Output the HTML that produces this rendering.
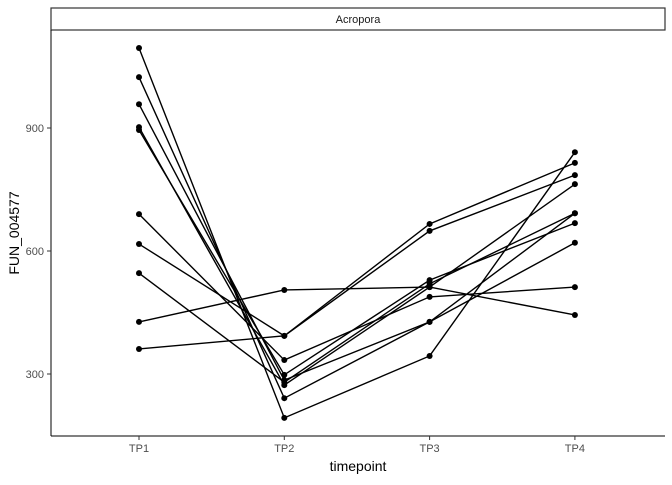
<!DOCTYPE html>
<html><head><meta charset="utf-8"><style>
body{margin:0;background:#fff;font-family:"Liberation Sans",sans-serif}
</style></head><body>
<svg id="c" width="672" height="480" xmlns="http://www.w3.org/2000/svg" font-family="Liberation Sans, sans-serif">
<rect x="51" y="8" width="614" height="22" fill="#fff" stroke="#333" stroke-width="1.2"/>
<text x="358" y="23" font-size="11" text-anchor="middle" fill="#1a1a1a">Acropora</text>
<line x1="51" y1="30" x2="51" y2="436" stroke="#000"/>
<line x1="51" y1="436" x2="665" y2="436" stroke="#000"/>
<g id="ticks"></g>
<g id="lines"></g>
<g id="pts"></g>
<text x="358" y="471" font-size="14" text-anchor="middle" fill="#000">timepoint</text>
<text transform="translate(19,233) rotate(-90)" font-size="14" text-anchor="middle" fill="#000">FUN_004577</text>
</svg>
<script>
const categories = ["TP1","TP2","TP3","TP4"];
const yTicks = [300,600,900];
const s1 = [1095,193,344,841];
const s2 = [1024,241,427,620];
const s3 = [958,285,427,692];
const s4 = [902,273,512,763];
const s5 = [895,298,529,668];
const s6 = [690,334,488,512];
const s7 = [617,393,649,785];
const s8 = [546,280,520,692];
const s9 = [427,505,512,444];
const s10 = [361,393,666,815];
const series = [s1,s2,s3,s4,s5,s6,s7,s8,s9,s10];
const NS="http://www.w3.org/2000/svg";
const x = i => 139 + i*145.3;
const y = v => 374 - (v-300)*0.41;
const tk=document.getElementById('ticks'), lg=document.getElementById('lines'), pg=document.getElementById('pts');
function mk(tag,attrs,parent){const e=document.createElementNS(NS,tag);for(const k in attrs)e.setAttribute(k,attrs[k]);parent.appendChild(e);return e;}
yTicks.forEach(t=>{
  const l=mk('line',{x1:47,x2:51,y1:y(t),y2:y(t),stroke:'#333'},tk);
  
  
  const tx=mk('text',{x:44,y:y(t)+4,'font-size':11,'text-anchor':'end',fill:'#4d4d4d'},tk);
  tx.textContent=t;
  
  
});
categories.forEach((c,i)=>{
  const l=mk('line',{x1:x(i),x2:x(i),y1:436,y2:440,stroke:'#333'},tk);
  
  
  const tx=mk('text',{x:x(i),y:452,'font-size':11,'text-anchor':'middle',fill:'#4d4d4d'},tk);
  tx.textContent=c;
  
  
});
series.forEach((s,k)=>{
  const pl=mk('polyline',{points:s.map((v,i)=>x(i)+','+y(v)).join(' '),fill:'none',stroke:'#000','stroke-width':1.4},lg);
  
  
  s.forEach((v,i)=>{
    const c=mk('circle',{cx:x(i),cy:y(v),r:3,fill:'#000'},pg);
    
    
  });
});
</script>
</body></html>
